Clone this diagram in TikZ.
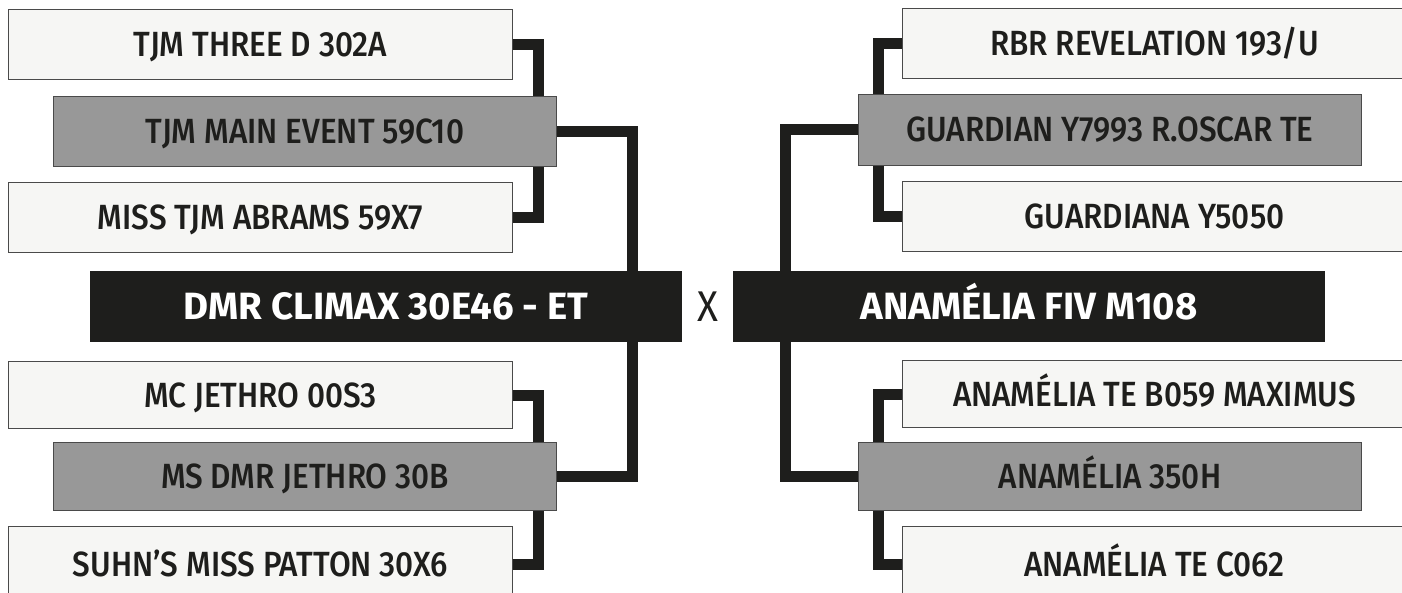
\documentclass[tikz,border=0pt]{standalone}
\usepackage{fontspec}
\usetikzlibrary{backgrounds}
\newfontfamily\lblfont{Fira Sans Medium}[FakeStretch=0.9]
\newfontfamily\hdfont{Fira Sans Bold}[FakeStretch=1.01]
\newfontfamily\vsfont{Fira Sans}[FakeStretch=0.9]
\definecolor{ink}{HTML}{1E1E1C}
\definecolor{lightf}{HTML}{F6F6F4}
\definecolor{greyf}{HTML}{989898}
\definecolor{edge}{HTML}{4A4A4A}
\tikzset{
  boxbase/.style={anchor=north west, inner sep=0pt, text height=24pt, text depth=0pt, text=ink,
    font=\lblfont\fontsize{35}{35}\selectfont, line width=1pt},
  lightbox/.style={boxbase, draw=edge, fill=lightf, minimum width=504},
  greybox/.style={boxbase, draw=edge, fill=greyf, minimum width=503},
  mainbox/.style={anchor=north west, inner sep=0pt, text height=26.5pt, text depth=0pt, fill=ink,
    text=white, font=\hdfont\fontsize{38}{38}\selectfont, minimum width=592, minimum height=71},
  wire/.style={draw=ink, line width=11pt, line join=miter, line cap=butt}
}
\begin{document}
\begin{tikzpicture}[x=1pt,y=-1pt]
\useasboundingbox (0,0) rectangle (1402,593);
% left side
\node[lightbox, minimum height=70] (l1) at (8,9) {TJM THREE D 302A};
\node[greybox, minimum height=70] (l2) at (53,96) {TJM MAIN EVENT 59C10};
\node[lightbox, minimum height=70] (l3) at (8,182) {MISS TJM ABRAMS 59X7};
\node[mainbox] (lm) at (90,271) {DMR CLIMAX 30E46 - ET};
\node[lightbox, minimum height=67] (l4) at (8,361) {MC JETHRO 00S3};
\node[greybox, minimum height=68] (l5) at (53,442) {MS DMR JETHRO 30B};
\node[lightbox, minimum height=75] (l6) at (8,526) {SUHN’S MISS PATTON 30X6};
% right side
\node[lightbox, minimum height=70] (r1) at (902,8) {RBR REVELATION 193/U};
\node[greybox, minimum height=71] (r2) at (858,94) {GUARDIAN Y7993 R.OSCAR TE};
\node[lightbox, minimum height=70] (r3) at (902,181) {GUARDIANA Y5050};
\node[mainbox] (rm) at (733,271) {ANAMÉLIA FIV M108};
\node[lightbox, minimum height=67] (r4) at (902,360) {ANAMÉLIA TE B059 MAXIMUS};
\node[greybox, minimum height=68] (r5) at (858,442) {ANAMÉLIA 350H};
\node[lightbox, minimum height=75] (r6) at (902,526) {ANAMÉLIA TE C062};
% versus mark
\node[inner sep=0pt, text height=30pt, text depth=0pt, text=ink, font=\vsfont\fontsize{43}{43}\selectfont] (vs) at (707.5,307) {X};
% connectors
\begin{pgfonlayer}{background}
\fill[white] (0,0) rectangle (1402,593);
\draw[wire] (l1.east) -- ++(25,0) |- (l3.east);
\draw[wire] (l4.east) -- ++(25,0) |- (l6.east);
\draw[wire] (l2.east) -| ([xshift=-50]lm.north east);
\draw[wire] (l5.east) -| ([xshift=-50]lm.south east);
\draw[wire] (r1.west) -- ++(-24,0) |- (r3.west);
\draw[wire] (r4.west) -- ++(-24,0) |- (r6.west);
\draw[wire] (r2.west) -| ([xshift=52]rm.north west);
\draw[wire] (r5.west) -| ([xshift=52]rm.south west);
\end{pgfonlayer}
\end{tikzpicture}
\end{document}
